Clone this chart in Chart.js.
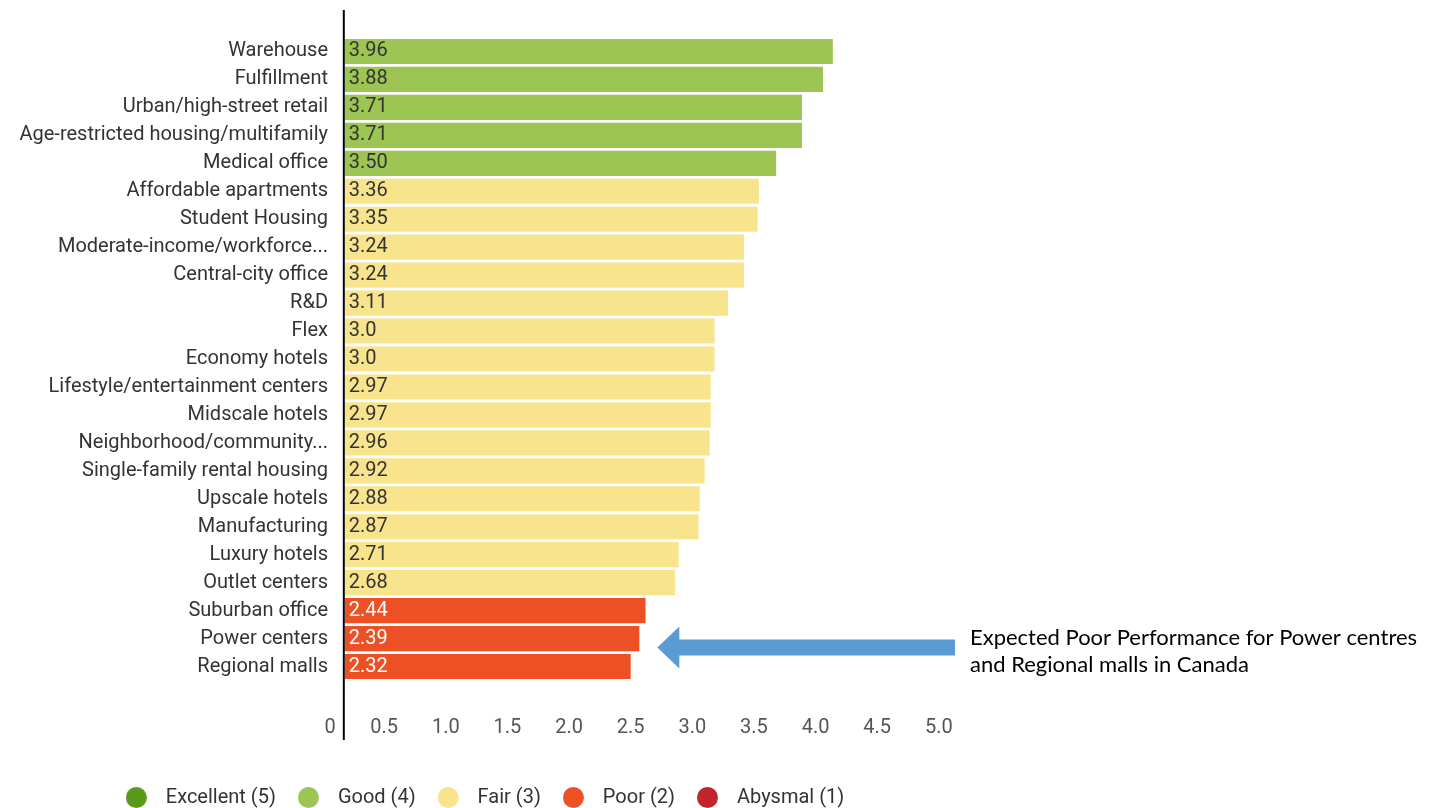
<!DOCTYPE html>
<html>
<head>
<meta charset="utf-8">
<script src="https://cdn.jsdelivr.net/npm/chart.js@4.4.1/dist/chart.umd.min.js"></script>
<style>
body { margin: 0; background: #fff; }
#wrap { width: 1439px; height: 808px; position: relative; }
</style>
</head>
<body>
<div id="wrap"><canvas id="canvas"></canvas></div>
<script>
var categories = [
    'Warehouse', 'Fulfillment', 'Urban/high-street retail', 'Age-restricted housing/multifamily',
    'Medical office', 'Affordable apartments', 'Student Housing', 'Moderate-income/workforce...',
    'Central-city office', 'R&D', 'Flex', 'Economy hotels', 'Lifestyle/entertainment centers',
    'Midscale hotels', 'Neighborhood/community...', 'Single-family rental housing', 'Upscale hotels',
    'Manufacturing', 'Luxury hotels', 'Outlet centers', 'Suburban office', 'Power centers', 'Regional malls'
];
var values = [3.96, 3.88, 3.71, 3.71, 3.50, 3.36, 3.35, 3.24, 3.24, 3.11, 3.0, 3.0, 2.97,
    2.97, 2.96, 2.92, 2.88, 2.87, 2.71, 2.68, 2.44, 2.39, 2.32];
var tickLabels = ['0', '0.5', '1.0', '1.5', '2.0', '2.5', '3.0', '3.5', '4.0', '4.5', '5.0'];
var ratingNames = ['Excellent (5)', 'Good (4)', 'Fair (3)', 'Poor (2)', 'Abysmal (1)'];
var ratingColors = ['#5b9a17', '#9dc554', '#f9e48e', '#ec5024', '#c1232f'];
var note = ['Expected Poor Performance for Power centres', 'and Regional malls in Canada'];

// tick labels in the source sit a bit left of their true value
var tickShift = 0.18;
var xMin = -0.12;
var FONT = 'Roboto';
var FONT_SIZE = 20;

function ratingOf(v) {
    if (v >= 3.5) return 1;
    if (v >= 2.5) return 2;
    return 3;
}

function formatValue(v) {
    return Number.isInteger(v) ? v.toFixed(1) : v.toFixed(2);
}

function dot(color) {
    var c = document.createElement('canvas');
    c.width = 21;
    c.height = 21;
    var g = c.getContext('2d');
    g.fillStyle = color;
    g.beginPath();
    g.arc(10.5, 10.5, 10.5, 0, 2 * Math.PI);
    g.fill();
    return c;
}

var axisLinePlugin = {
    id: 'axisLine',
    afterDatasetsDraw: function(chart) {
        var ctx = chart.ctx;
        var x = chart.scales.x.getPixelForValue(0) - 1;
        ctx.save();
        ctx.strokeStyle = '#000';
        ctx.lineWidth = 2;
        ctx.beginPath();
        ctx.moveTo(x, 10);
        ctx.lineTo(x, 740);
        ctx.stroke();
        ctx.restore();
    }
};

var valueLabelPlugin = {
    id: 'valueLabels',
    afterDatasetsDraw: function(chart) {
        var ctx = chart.ctx;
        var x0 = chart.scales.x.getPixelForValue(0);
        ctx.save();
        ctx.font = FONT_SIZE + 'px ' + FONT;
        ctx.textBaseline = 'middle';
        ctx.textAlign = 'left';
        chart.getDatasetMeta(0).data.forEach(function(bar, i) {
            ctx.fillStyle = ratingOf(values[i]) === 3 ? '#fff' : '#333';
            ctx.fillText(formatValue(values[i]), x0 + 4, bar.y);
        });
        ctx.restore();
    }
};

var notePlugin = {
    id: 'note',
    afterDraw: function(chart) {
        var ctx = chart.ctx;
        var idx = categories.indexOf('Power centers');
        var by = chart.scales.y.getPixelForValue(idx);
        var bx = chart.scales.x.getPixelForValue(values[idx]);
        var y = by + 9;
        var tip = bx + 18;
        ctx.save();
        ctx.fillStyle = '#5b9bd5';
        ctx.beginPath();
        ctx.moveTo(tip, y);
        ctx.lineTo(tip + 22, y - 21);
        ctx.lineTo(tip + 22, y - 8);
        ctx.lineTo(955, y - 8);
        ctx.lineTo(955, y + 8);
        ctx.lineTo(tip + 22, y + 8);
        ctx.lineTo(tip + 22, y + 21);
        ctx.closePath();
        ctx.fill();
        ctx.fillStyle = '#000';
        ctx.font = '22px Lato';
        ctx.textBaseline = 'middle';
        ctx.fillText(note[0], 970, by - 1);
        ctx.fillText(note[1], 970, by + 26);
        ctx.restore();
    }
};

function renderChart() {
    var ctx = document.getElementById('canvas').getContext('2d');
    var barColors = values.map(function(v) { return ratingColors[ratingOf(v)]; });

    new Chart(ctx, {
        type: 'bar',
        data: {
            labels: categories,
            datasets: [{
                data: values,
                backgroundColor: barColors,
                borderWidth: 0,
                barPercentage: 0.9,
                categoryPercentage: 1.0
            }]
        },
        options: {
            indexAxis: 'y',
            responsive: true,
            maintainAspectRatio: false,
            animation: false,
            layout: {
                padding: { left: 0, right: 478, top: 37.5, bottom: -9.5 }
            },
            plugins: {
                tooltip: { enabled: false },
                legend: {
                    position: 'bottom',
                    onClick: null,
                    labels: {
                        usePointStyle: true,
                        pointStyleWidth: 39,
                        padding: 13,
                        color: '#333',
                        font: { family: FONT, size: FONT_SIZE },
                        generateLabels: function() {
                            return ratingNames.map(function(name, i) {
                                return {
                                    text: name,
                                    fillStyle: ratingColors[i],
                                    strokeStyle: ratingColors[i],
                                    lineWidth: 0,
                                    pointStyle: dot(ratingColors[i]),
                                    fontColor: '#333',
                                    hidden: false
                                };
                            });
                        }
                    }
                }
            },
            scales: {
                x: {
                    min: xMin,
                    max: 5,
                    grid: { display: false, tickLength: 0 },
                    border: { display: false },
                    afterBuildTicks: function(scale) {
                        scale.ticks = tickLabels.map(function(t) {
                            return { value: Math.max(Number(t) - tickShift, xMin) };
                        });
                    },
                    afterFit: function(scale) {
                        scale.height = 94;
                    },
                    ticks: {
                        padding: 35,
                        color: '#555',
                        font: { family: FONT, size: FONT_SIZE },
                        autoSkip: false,
                        maxRotation: 0,
                        callback: function(value, index) {
                            return tickLabels[index];
                        }
                    }
                },
                y: {
                    grid: { display: false, tickLength: 0 },
                    border: { display: false },
                    afterFit: function(scale) {
                        scale.width = 330;
                    },
                    ticks: {
                        padding: 2,
                        color: '#333',
                        autoSkip: false,
                        font: { family: FONT, size: FONT_SIZE }
                    }
                }
            }
        },
        plugins: [axisLinePlugin, valueLabelPlugin, notePlugin]
    });
}

if (document.readyState !== 'loading') {
    renderChart();
} else {
    document.addEventListener('DOMContentLoaded', renderChart);
}
</script>
</body>
</html>
